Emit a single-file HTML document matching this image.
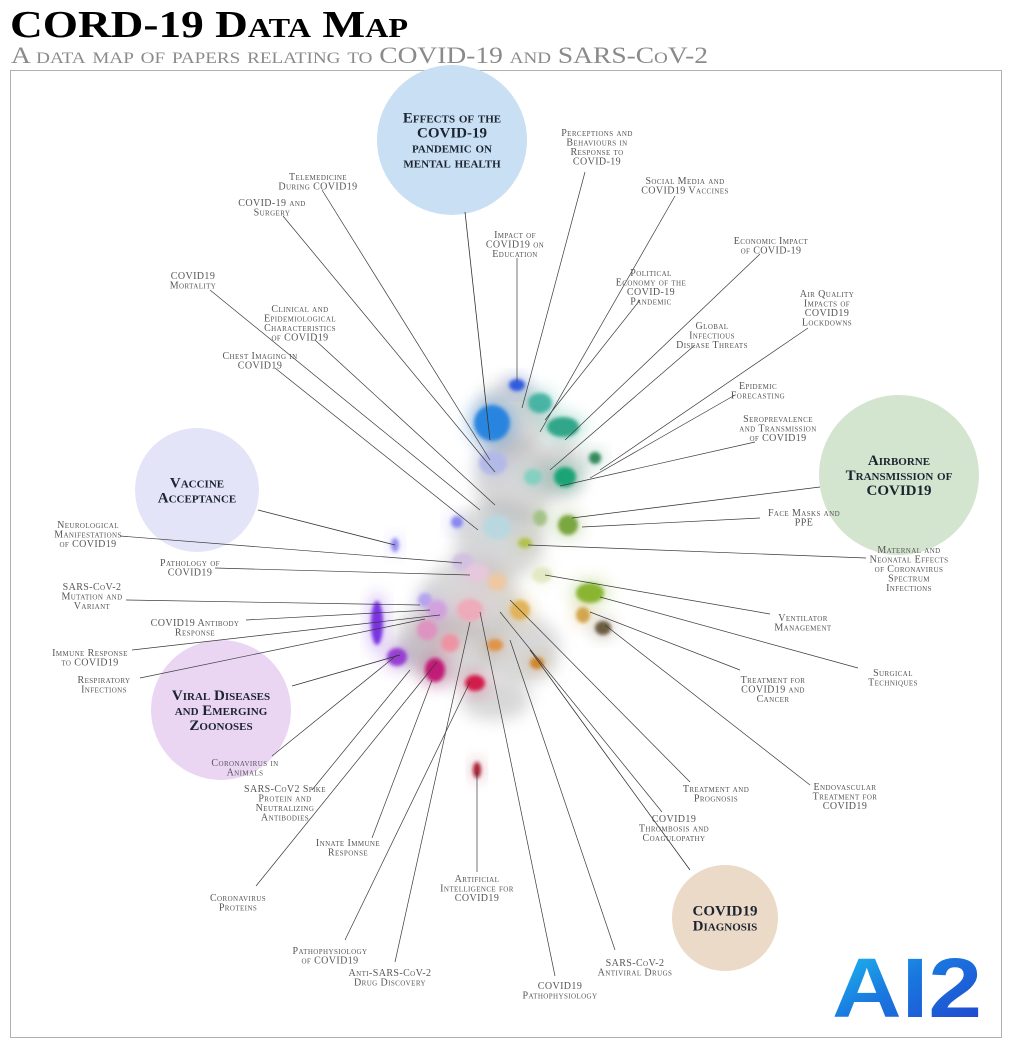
<!DOCTYPE html>
<html><head><meta charset="utf-8"><style>
html,body{margin:0;padding:0;background:#fff;}
svg{display:block;font-family:"Liberation Serif",serif;}
.lbl{font-size:10px;font-variant:small-caps;fill:#555;letter-spacing:0.4px;}
.big{font-size:15px;font-weight:bold;font-variant:small-caps;fill:#1c2430;}
</style></head><body>
<svg id="map" width="1011" height="1047" viewBox="0 0 1011 1047">
<defs>
<filter id="blur" x="-50%" y="-50%" width="200%" height="200%"><feGaussianBlur stdDeviation="1.8"/></filter>
<filter id="blur2" x="-50%" y="-50%" width="200%" height="200%"><feGaussianBlur stdDeviation="8"/></filter>
<linearGradient id="ai2g" x1="0" y1="0" x2="1" y2="1"><stop offset="0" stop-color="#1ec8f0"/><stop offset="0.45" stop-color="#1a78e0"/><stop offset="1" stop-color="#1f40cc"/></linearGradient>
</defs>
<text x="10" y="37" font-size="38" font-weight="bold" style="font-variant:small-caps" textLength="398" lengthAdjust="spacingAndGlyphs" fill="#000">CORD-19 Data Map</text>
<text x="11" y="63" font-size="23" style="font-variant:small-caps" fill="#8a8a8a" textLength="697" lengthAdjust="spacingAndGlyphs">A data map of papers relating to COVID-19 and SARS-CoV-2</text>
<rect x="10.5" y="70.5" width="991" height="967" fill="none" stroke="#b0b0b0"/>
<g id="bubbles"></g>
<g id="density"></g>
<g id="clusters"></g>
<g id="lines"></g>
<g id="labels"></g>
<text x="832" y="1017" font-family="Liberation Sans,sans-serif" font-weight="bold" font-size="84" fill="url(#ai2g)" textLength="150" lengthAdjust="spacingAndGlyphs">AI2</text>
</svg>
<script>
// Topic bubbles
const bubbleLabels=[["Effects of the","COVID-19","pandemic on","mental health"],["Vaccine","Acceptance"],["Airborne","Transmission of","COVID19"],["Viral Diseases","and Emerging","Zoonoses"],["COVID19","Diagnosis"]];
const bubbleCenters=[[452,140],[197,490],[899,475],[221,710],[725,918]];
const bubbleRadii=[75,62,80,70,53];
const bubbleColors=["#c8dff4","#e4e4f8","#d3e4cf","#ead5f3","#ebdac8"];
const bubbleTargets=[[490,440],[395,545],[572,518],[400,655],[530,650]];
const bubbleSources=[[465,212],[258,510],[820,487],[292,686],[690,870]];

// Clusters
const clusterPos=[[492,423],[517,385],[540,403],[563,427],[595,458],[565,477],[533,477],[493,463],[497,527],[457,522],[395,545],[568,525],[540,518],[525,543],[463,562],[477,573],[497,582],[542,575],[590,593],[520,610],[583,615],[603,628],[377,623],[425,600],[437,610],[470,610],[427,630],[397,657],[435,670],[450,643],[475,683],[495,645],[537,663],[477,770]];
const clusterSize=[[18,18],[8,6],[12,10],[16,10],[6,6],[11,10],[9,8],[14,12],[14,12],[6,6],[4,7],[10,10],[7,8],[7,5],[11,9],[12,9],[9,9],[10,8],[14,10],[10,10],[7,8],[8,7],[6,22],[7,7],[10,10],[13,11],[10,10],[10,9],[10,12],[9,9],[10,8],[8,6],[7,6],[4,8]];
const clusterColors=["#1f7fe0","#2450e0","#3cb0a0","#20a080","#208050","#10a070","#80d0c0","#b0b8e8","#b8d8e0","#8080f0","#8a80f0","#70a030","#a0c080","#b0c040","#d0c0e0","#e8c8e0","#f0c8a0","#e0e8c0","#80b020","#e0b050","#d0a040","#605030","#7020e0","#b0a0f0","#d0a0e0","#f0a8b8","#e090c0","#9030d0","#c01070","#f090a0","#d01040","#e09040","#d08020","#a01020"];

// grey density
const densityPos=[[510,420],[515,480],[500,540],[470,600],[450,650],[520,650],[495,700],[560,470],[420,640]];
const densitySize=[[35,40],[40,45],[45,40],[50,40],[45,35],[40,35],[35,20],[25,30],[25,30]];

// Labels
const labelText=[["Perceptions and","Behaviours in","Response to","COVID-19"],["Social Media and","COVID19 Vaccines"],["Telemedicine","During COVID19"],["COVID-19 and","Surgery"],["Impact of","COVID19 on","Education"],["Economic Impact","of COVID-19"],["Political","Economy of the","COVID-19","Pandemic"],["COVID19","Mortality"],["Air Quality","Impacts of","COVID19","Lockdowns"],["Clinical and","Epidemiological","Characteristics","of COVID19"],["Global","Infectious","Disease Threats"],["Chest Imaging in","COVID19"],["Epidemic","Forecasting"],["Seroprevalence","and Transmission","of COVID19"],["Face Masks and","PPE"],["Neurological","Manifestations","of COVID19"],["Maternal and","Neonatal Effects","of Coronavirus","Spectrum","Infections"],["Pathology of","COVID19"],["SARS-CoV-2","Mutation and","Variant"],["Ventilator","Management"],["COVID19 Antibody","Response"],["Immune Response","to COVID19"],["Respiratory","Infections"],["Surgical","Techniques"],["Treatment for","COVID19 and","Cancer"],["Coronavirus in","Animals"],["SARS-CoV2 Spike","Protein and","Neutralizing","Antibodies"],["Endovascular","Treatment for","COVID19"],["Treatment and","Prognosis"],["COVID19","Thrombosis and","Coagulopathy"],["Innate Immune","Response"],["Artificial","Intelligence for","COVID19"],["Coronavirus","Proteins"],["Pathophysiology","of COVID19"],["Anti-SARS-CoV-2","Drug Discovery"],["SARS-CoV-2","Antiviral Drugs"],["COVID19","Pathophysiology"]];
const labelPos=[[597,128],[685,176],[318,172],[272,198],[515,230],[771,236],[651,268],[193,271],[827,289],[300,304],[712,321],[260,351],[758,381],[778,414],[804,508],[88,520],[909,545],[190,558],[92,582],[803,613],[195,618],[90,648],[104,675],[893,668],[773,675],[245,758],[285,784],[845,782],[716,784],[674,814],[348,838],[477,874],[238,893],[330,946],[390,968],[635,958],[560,981]];
const lineFrom=[[585,172],[675,196],[322,190],[283,216],[517,258],[760,254],[640,300],[210,290],[808,328],[315,340],[695,345],[275,368],[735,395],[755,442],[760,518],[120,536],[866,558],[215,568],[126,600],[770,614],[246,620],[132,650],[140,678],[858,668],[740,670],[272,756],[312,790],[810,785],[690,782],[662,812],[372,838],[477,872],[256,886],[345,940],[395,962],[615,950],[555,976]];
const lineTo=[[522,408],[540,432],[490,460],[495,472],[517,382],[565,440],[545,420],[480,510],[600,470],[495,505],[550,470],[478,530],[590,478],[560,486],[582,527],[462,563],[528,545],[470,575],[420,605],[545,575],[430,610],[440,615],[425,619],[600,597],[590,612],[397,655],[410,670],[605,625],[510,600],[500,612],[432,680],[477,772],[437,662],[470,682],[470,622],[510,640],[480,612]];

const NS="http://www.w3.org/2000/svg";
function mk(tag,attrs,parent){const e=document.createElementNS(NS,tag);for(const k in attrs)e.setAttribute(k,attrs[k]);parent.appendChild(e);return e;}
const gB=document.getElementById('bubbles'),gD=document.getElementById('density'),gC=document.getElementById('clusters'),gL=document.getElementById('lines'),gT=document.getElementById('labels');

densityPos.forEach((p,i)=>{
  const e=mk('ellipse',{cx:p[0],cy:p[1],rx:densitySize[i][0],ry:densitySize[i][1],fill:'#b0b0b0',opacity:0.5,filter:'url(#blur2)'},gD);
  
  
});
clusterPos.forEach((p,i)=>{
  const g=mk('g',{},gC);
  
  
  mk('ellipse',{cx:p[0],cy:p[1],rx:clusterSize[i][0]*1.4,ry:clusterSize[i][1]*1.4,fill:clusterColors[i],opacity:0.3,filter:'url(#blur2)'},g);
  mk('ellipse',{cx:p[0],cy:p[1],rx:clusterSize[i][0],ry:clusterSize[i][1],fill:clusterColors[i],opacity:0.9,filter:'url(#blur)'},g);
});
bubbleCenters.forEach((c,i)=>{
  const g=mk('g',{},gB);
  
  
  mk('circle',{cx:c[0],cy:c[1],r:bubbleRadii[i],fill:bubbleColors[i]},g);
  const ln=mk('line',{x1:bubbleSources[i][0],y1:bubbleSources[i][1],x2:bubbleTargets[i][0],y2:bubbleTargets[i][1],stroke:'#333','stroke-width':0.8},gL);
  
  
  const lines=bubbleLabels[i],lh=15,y0=c[1]-(lines.length-1)*lh/2+5;
  const t=mk('text',{class:'big','text-anchor':'middle'},gT);
  
  
  lines.forEach((s,j)=>{const ts=mk('tspan',{x:c[0],y:y0+j*lh},t);ts.textContent=s;});
});
labelText.forEach((lines,i)=>{
  const ln=mk('line',{x1:lineFrom[i][0],y1:lineFrom[i][1],x2:lineTo[i][0],y2:lineTo[i][1],stroke:'#3a3a3a','stroke-width':0.7},gL);
  
  
  const t=mk('text',{class:'lbl','text-anchor':'middle'},gT);
  
  
  if(i===9)t.setAttribute('fill','#8a8a8a');
  lines.forEach((s,j)=>{const ts=mk('tspan',{x:labelPos[i][0],y:labelPos[i][1]+8+j*9.5},t);ts.textContent=s;});
});
</script>
</body></html>
